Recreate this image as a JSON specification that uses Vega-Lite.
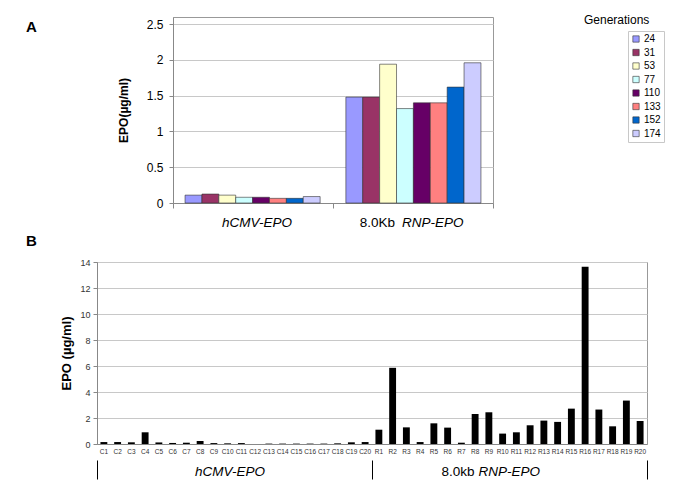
{
  "$schema": "https://vega.github.io/schema/vega-lite/v6.json",
  "background": "white",
  "padding": {"left": 25, "top": 13, "right": 5, "bottom": 2},
  "config": {
    "font": "Liberation Sans",
    "view": {"stroke": "#999"},
    "axis": {"gridColor": "#c8c8c8", "domainColor": "#888", "tickColor": "#888", "labelColor": "#000", "titleColor": "#000"}
  },
  "datasets": {
    "a": [
      {"grp": "hCMV", "gen": "24", "v": 0.11},
      {"grp": "hCMV", "gen": "31", "v": 0.125},
      {"grp": "hCMV", "gen": "53", "v": 0.11},
      {"grp": "hCMV", "gen": "77", "v": 0.08},
      {"grp": "hCMV", "gen": "110", "v": 0.08},
      {"grp": "hCMV", "gen": "133", "v": 0.065},
      {"grp": "hCMV", "gen": "152", "v": 0.065},
      {"grp": "hCMV", "gen": "174", "v": 0.09},
      {"grp": "RNP", "gen": "24", "v": 1.48},
      {"grp": "RNP", "gen": "31", "v": 1.48},
      {"grp": "RNP", "gen": "53", "v": 1.94},
      {"grp": "RNP", "gen": "77", "v": 1.32},
      {"grp": "RNP", "gen": "110", "v": 1.40},
      {"grp": "RNP", "gen": "133", "v": 1.40},
      {"grp": "RNP", "gen": "152", "v": 1.62},
      {"grp": "RNP", "gen": "174", "v": 1.96}
    ],
    "b": [
      {"id": "C1", "grp": "hCMV", "v": 0.15},
      {"id": "C2", "grp": "hCMV", "v": 0.15},
      {"id": "C3", "grp": "hCMV", "v": 0.13},
      {"id": "C4", "grp": "hCMV", "v": 0.9},
      {"id": "C5", "grp": "hCMV", "v": 0.12},
      {"id": "C6", "grp": "hCMV", "v": 0.08},
      {"id": "C7", "grp": "hCMV", "v": 0.1},
      {"id": "C8", "grp": "hCMV", "v": 0.23},
      {"id": "C9", "grp": "hCMV", "v": 0.07},
      {"id": "C10", "grp": "hCMV", "v": 0.05},
      {"id": "C11", "grp": "hCMV", "v": 0.07},
      {"id": "C12", "grp": "hCMV", "v": 0.0},
      {"id": "C13", "grp": "hCMV", "v": 0.03},
      {"id": "C14", "grp": "hCMV", "v": 0.03},
      {"id": "C15", "grp": "hCMV", "v": 0.03},
      {"id": "C16", "grp": "hCMV", "v": 0.03},
      {"id": "C17", "grp": "hCMV", "v": 0.03},
      {"id": "C18", "grp": "hCMV", "v": 0.05},
      {"id": "C19", "grp": "hCMV", "v": 0.13},
      {"id": "C20", "grp": "hCMV", "v": 0.15},
      {"id": "R1", "grp": "RNP", "v": 1.1},
      {"id": "R2", "grp": "RNP", "v": 5.86},
      {"id": "R3", "grp": "RNP", "v": 1.28},
      {"id": "R4", "grp": "RNP", "v": 0.15},
      {"id": "R5", "grp": "RNP", "v": 1.59},
      {"id": "R6", "grp": "RNP", "v": 1.26},
      {"id": "R7", "grp": "RNP", "v": 0.1},
      {"id": "R8", "grp": "RNP", "v": 2.31},
      {"id": "R9", "grp": "RNP", "v": 2.44},
      {"id": "R10", "grp": "RNP", "v": 0.8},
      {"id": "R11", "grp": "RNP", "v": 0.9},
      {"id": "R12", "grp": "RNP", "v": 1.44},
      {"id": "R13", "grp": "RNP", "v": 1.8},
      {"id": "R14", "grp": "RNP", "v": 1.7},
      {"id": "R15", "grp": "RNP", "v": 2.72},
      {"id": "R16", "grp": "RNP", "v": 13.64},
      {"id": "R17", "grp": "RNP", "v": 2.65},
      {"id": "R18", "grp": "RNP", "v": 1.36},
      {"id": "R19", "grp": "RNP", "v": 3.34},
      {"id": "R20", "grp": "RNP", "v": 1.77}
    ]
  },
  "spacing": 4,
  "resolve": {"scale": {"color": "independent"}, "legend": {"color": "independent"}},
  "vconcat": [
    {
      "bounds": "flush",
      "spacing": 0,
      "resolve": {"scale": {"color": "independent"}, "legend": {"color": "independent"}},
      "hconcat": [
        {
          "width": 76,
          "height": 186,
          "view": {"stroke": null},
          "title": {"text": "A", "anchor": "start", "frame": "group", "dx": -71, "offset": -33, "baseline": "bottom", "fontSize": 15, "fontWeight": "bold", "color": "#000"},
          "data": {"values": [{"k": 0}]},
          "mark": {"type": "point", "opacity": 0},
          "encoding": {}
        },
        {
          "width": 320,
          "height": 186,
          "title": {"text": "Generations", "anchor": "start", "frame": "group", "dx": 411, "offset": -21.5, "baseline": "bottom", "fontSize": 12, "fontWeight": "normal", "color": "#000"},
          "data": {"name": "a"},
          "resolve": {"scale": {"x": "independent"}, "axis": {"x": "independent", "y": "independent"}},
          "layer": [
            {
              "mark": {"type": "bar", "stroke": "#333", "strokeWidth": 0.6},
              "encoding": {
                "x": {
                  "field": "grp", "type": "nominal",
                  "scale": {"domain": ["hCMV", "RNP"], "paddingInner": 0.16, "paddingOuter": 0.075},
                  "axis": {"orient": "bottom", "title": null, "labels": false, "ticks": false, "grid": false, "domain": true}
                },
                "xOffset": {"field": "gen", "type": "nominal", "scale": {"domain": ["24", "31", "53", "77", "110", "133", "152", "174"], "padding": 0}},
                "y": {
                  "field": "v", "type": "quantitative",
                  "scale": {"domain": [0, 2.5]},
                  "axis": {"title": "EPO(µg/ml)", "titleFontSize": 12, "titleFontWeight": "bold", "titlePadding": 16, "values": [0, 0.5, 1, 1.5, 2, 2.5], "format": "~g", "labelFontSize": 12, "labelPadding": 6, "tickSize": 4}
                },
                "color": {
                  "field": "gen", "type": "nominal",
                  "scale": {"domain": ["24", "31", "53", "77", "110", "133", "152", "174"], "range": ["#9999FF", "#993366", "#FFFFCC", "#CCFFFF", "#660066", "#FF8080", "#0066CC", "#CCCCFF"]},
                  "legend": {
                    "title": null, "orient": "none", "legendX": 455, "legendY": 14, "padding": 3,
                    "strokeColor": "#c8c8c8", "fillColor": "white",
                    "labelFontSize": 10, "symbolType": "square", "symbolSize": 40, "symbolStrokeColor": "#333", "symbolStrokeWidth": 0.6,
                    "symbolOffset": 0, "rowPadding": 3.5, "labelOffset": 3,
                    "labelExpr": "datum.label + '\u2007\u2007\u2007'"
                  }
                }
              }
            },
            {
              "mark": {"type": "point", "opacity": 0},
              "encoding": {
                "x": {
                  "field": "grp", "type": "nominal",
                  "scale": {"type": "band", "domain": ["hCMV", "RNP"], "padding": 0},
                  "axis": {"orient": "bottom", "title": null, "domain": false, "grid": false, "labels": false, "tickBand": "extent", "tickSize": 5, "tickColor": "#888"}
                },
                "y": {"field": "v", "type": "quantitative", "axis": null}
              }
            },
            {
              "mark": {"type": "point", "opacity": 0},
              "encoding": {
                "x": {
                  "field": "grp", "type": "nominal",
                  "scale": {"type": "band", "domain": ["hCMV", "RNP"], "padding": 0},
                  "axis": {
                    "orient": "bottom", "title": null, "domain": false, "grid": false, "ticks": false, "tickSize": 0, "labelAngle": 0,
                    "labelFontSize": 13.5, "labelFontStyle": "italic", "labelPadding": 19, "labelBaseline": "middle",
                    "labelExpr": "datum.value == 'RNP' ? 'RNP-EPO' : 'hCMV-EPO'",
                    "labelAlign": {"condition": {"test": "datum.value == 'RNP'", "value": "left"}, "value": "center"},
                    "labelOffset": {"condition": {"test": "datum.value == 'RNP'", "value": -11}, "value": 4}
                  }
                },
                "y": {"field": "v", "type": "quantitative", "axis": null}
              }
            },
            {
              "mark": {"type": "point", "opacity": 0},
              "encoding": {
                "x": {
                  "field": "grp", "type": "nominal",
                  "scale": {"type": "band", "domain": ["hCMV", "RNP"], "padding": 0},
                  "axis": {
                    "orient": "bottom", "title": null, "domain": false, "grid": false, "ticks": false, "tickSize": 0, "labelAngle": 0,
                    "labelFontSize": 13.5, "labelPadding": 19, "labelBaseline": "middle", "labelAlign": "right", "labelOffset": -18,
                    "labelExpr": "datum.value == 'RNP' ? '8.0Kb' : ''"
                  }
                },
                "y": {"field": "v", "type": "quantitative", "axis": null}
              }
            }
          ]
        }
      ]
    },
    {
      "width": 550,
      "height": 182,
      "title": {"text": "B", "anchor": "start", "frame": "group", "dx": -71, "offset": -6, "baseline": "bottom", "fontSize": 15, "fontWeight": "bold", "color": "#000"},
      "data": {"name": "b"},
      "resolve": {"scale": {"x": "independent"}, "axis": {"x": "independent", "y": "independent"}},
      "layer": [
        {
          "mark": {"type": "bar", "color": "#000"},
          "encoding": {
            "x": {
              "field": "id", "type": "nominal", "sort": null,
              "scale": {"paddingInner": 0.5, "paddingOuter": 0.25},
              "axis": {"title": null, "orient": "bottom", "ticks": false, "tickSize": 0, "labelAngle": 0, "labelFontSize": 6.5, "labelColor": "#333", "labelPadding": 7, "labelBaseline": "middle", "labelOverlap": false}
            },
            "y": {
              "field": "v", "type": "quantitative",
              "scale": {"domain": [0, 14]},
              "axis": {"title": "EPO (µg/ml)", "titleFontSize": 13, "titleFontWeight": "bold", "titlePadding": 6, "values": [0, 2, 4, 6, 8, 10, 12, 14], "labelFontSize": 9, "labelColor": "#333", "ticks": true, "tickSize": 4, "labelPadding": 3, "domain": true}
            }
          }
        },
        {
          "mark": {"type": "point", "opacity": 0},
          "encoding": {
            "x": {
              "field": "grp", "type": "nominal",
              "scale": {"type": "band", "domain": ["hCMV", "RNP"], "padding": 0},
              "axis": {"orient": "bottom", "title": null, "offset": 16, "domain": false, "grid": false, "labels": false, "tickBand": "extent", "tickSize": 19, "tickColor": "#000", "tickWidth": 1}
            },
            "y": {"field": "v", "type": "quantitative", "axis": null}
          }
        },
        {
          "mark": {"type": "point", "opacity": 0},
          "encoding": {
            "x": {
              "field": "grp", "type": "nominal",
              "scale": {"type": "band", "domain": ["hCMV", "RNP"], "padding": 0},
              "axis": {
                "orient": "bottom", "title": null, "offset": 16, "domain": false, "grid": false, "ticks": false, "tickSize": 0, "labelAngle": 0,
                "labelFontSize": 13.5, "labelFontStyle": "italic", "labelPadding": 11, "labelBaseline": "middle",
                "labelExpr": "datum.value == 'RNP' ? 'RNP-EPO' : 'hCMV-EPO'",
                "labelAlign": {"condition": {"test": "datum.value == 'RNP'", "value": "left"}, "value": "center"},
                "labelOffset": {"condition": {"test": "datum.value == 'RNP'", "value": -31}, "value": -4.5}
              }
            },
            "y": {"field": "v", "type": "quantitative", "axis": null}
          }
        },
        {
          "mark": {"type": "point", "opacity": 0},
          "encoding": {
            "x": {
              "field": "grp", "type": "nominal",
              "scale": {"type": "band", "domain": ["hCMV", "RNP"], "padding": 0},
              "axis": {
                "orient": "bottom", "title": null, "offset": 16, "domain": false, "grid": false, "ticks": false, "tickSize": 0, "labelAngle": 0,
                "labelFontSize": 13.5, "labelPadding": 11, "labelBaseline": "middle", "labelAlign": "right", "labelOffset": -35,
                "labelExpr": "datum.value == 'RNP' ? '8.0kb' : ''"
              }
            },
            "y": {"field": "v", "type": "quantitative", "axis": null}
          }
        }
      ]
    }
  ]
}
